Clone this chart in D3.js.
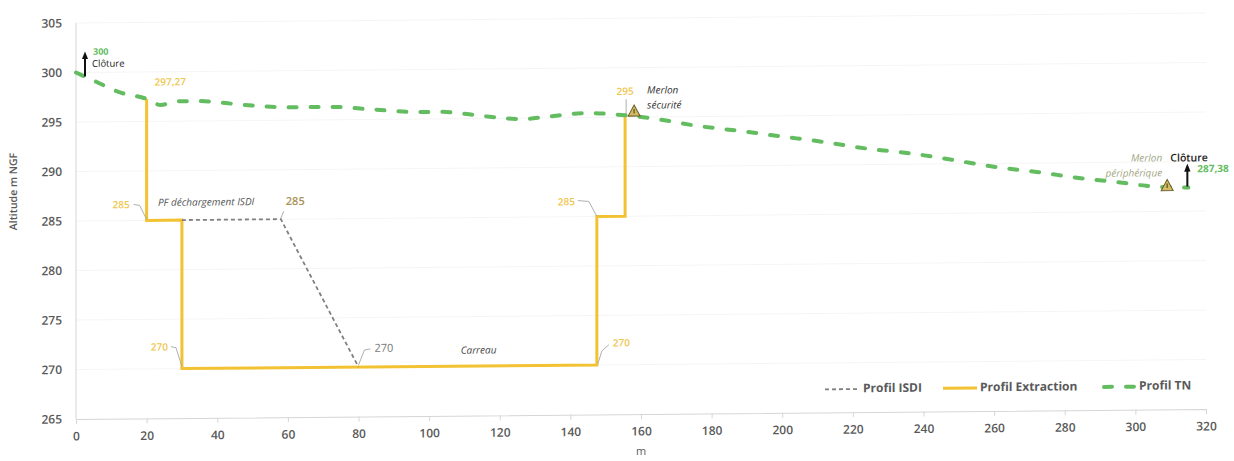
<!DOCTYPE html>
<html><head><meta charset="utf-8">
<script src="https://cdn.jsdelivr.net/npm/d3@7"></script>
<style>body{margin:0;background:#fff} svg{display:block} text{font-family:"Open Sans",sans-serif}</style>
</head><body><svg id="c" width="1234" height="461"></svg>
<script>
// ---- data ----
const xTicks = [0,20,40,60,80,100,120,140,160,180,200,220,240,260,280,300,320];
const yTicks = [265,270,275,280,285,290,295,300,305];
const tnX = [0,6,12,20,24,29,35,47,60,72,84,97,103,115,121,127,133,145,152,164,176,188,200,212,224,236,248,261,272,284,297,303,315];
const tnY = [300,299.0,298.0,297.27,296.65,297.0,297.0,296.6,296.3,296.3,296.0,295.7,295.7,295.25,295.0,294.9,295.1,295.45,295.3,294.8,294.05,293.5,292.9,292.3,291.6,291.1,290.4,289.6,289.1,288.45,287.9,287.6,287.38];
const extX = [20,20,30,30,147.5,147.5,155.5,155.5];
const extY = [297.27,285,285,270,270,285,285,295.1];
const isdiX = [30,58,80];
const isdiY = [285,285,270];
const seriesNames = ["Profil ISDI","Profil Extraction","Profil TN"];
const xTitle = "m", yTitle = "Altitude m NGF";

const W=1234,H=461, k=10/1130;
const svg=d3.select("#c");
svg.append("rect").attr("width",W).attr("height",H).attr("fill","#fff");
const g=svg.append("g").attr("transform",`matrix(1,${-k},0,1,0,${k*76})`);
const x=d3.scaleLinear().domain([0,320]).range([76,1206]);
const y=d3.scaleLinear().domain([265,305]).range([419,23]);

const C={tn:"#63bd60",ext:"#f3c232",isdi:"#808080",lab:"#595959",yl:"#efc64e"};

// gridlines
g.append("g").selectAll("line").data(yTicks.slice(1)).join("line")
 .attr("x1",x(0)).attr("x2",x(320)).attr("y1",d=>y(d)).attr("y2",d=>y(d))
 .attr("stroke","#f5f5f5").attr("stroke-width",1);

// axes
const xa=g.append("g").attr("transform",`translate(0,${y(265)})`)
 .call(d3.axisBottom(x).tickValues(xTicks).tickSize(5).tickPadding(8).tickFormat(d3.format("d")));
const ya=g.append("g").attr("transform",`translate(${x(0)},0)`)
 .call(d3.axisLeft(y).tickValues(yTicks).tickSize(0).tickPadding(14).tickFormat(d3.format("d")));
[xa,ya].forEach(a=>{
 a.selectAll("path").attr("stroke","#d6d6d6");
 a.selectAll("line").attr("stroke","#d6d6d6");
 a.selectAll("text").attr("fill",C.lab).attr("font-size",12).attr("font-weight",600).attr("font-family","'Open Sans',sans-serif");
});
ya.select("path").attr("d",`M0,${y(305)}V${y(265)}`);

// axis titles
g.append("text").attr("x",x(160)).attr("y",460).attr("text-anchor","middle")
 .attr("font-size",11).attr("fill",C.lab).text(xTitle);
g.append("text").attr("transform",`translate(17,${191}) rotate(-90)`).attr("text-anchor","middle")
 .attr("font-size",10.5).attr("font-weight",600).attr("fill",C.lab).text(yTitle);

const line=d3.line().x(d=>x(d[0])).y(d=>y(d[1]));
const tn=tnX.map((v,i)=>[v,tnY[i]]);
const ext=extX.map((v,i)=>[v,extY[i]]);
const isdi=isdiX.map((v,i)=>[v,isdiY[i]]);

g.append("path").attr("d",line(ext)).attr("fill","none").attr("stroke",C.ext).attr("stroke-width",3);
g.append("path").attr("d",line(isdi)).attr("fill","none").attr("stroke",C.isdi).attr("stroke-width",1.8).attr("stroke-dasharray","4,3");
g.append("path").attr("d",d3.line().curve(d3.curveMonotoneX).x(d=>x(d[0])).y(d=>y(d[1]))(tn))
 .attr("fill","none").attr("stroke",C.tn).attr("stroke-width",4).attr("stroke-dasharray","8,14").attr("stroke-linecap","round");

// defs
svg.append("defs").append("marker").attr("id","ah").attr("viewBox","0 0 10 10").attr("refX",5).attr("refY",5)
 .attr("markerWidth",4).attr("markerHeight",4).attr("orient","auto")
 .append("path").attr("d","M0,1L10,5L0,9Z").attr("fill","#111");

function P(pt){return [x(pt[0]),y(pt[1])];}
function txt(pt,dx,dy,s,o){
 const [px,py]=P(pt);
 const t=g.append("text").attr("x",px+dx).attr("y",py+dy).attr("dominant-baseline","middle")
  .attr("font-size",o.size||10).attr("fill",o.fill||C.lab).attr("text-anchor",o.anchor||"start")
  .attr("font-weight",o.weight||400).attr("font-style",o.italic?"italic":"normal").text(s);
 return t;
}
function leader(pt,pts){
 const [px,py]=P(pt);
 g.append("polyline").attr("points",pts.map(p=>[px+p[0],py+p[1]].join(",")).join(" "))
  .attr("fill","none").attr("stroke","#a6a6a6").attr("stroke-width",0.9);
}
function arrow(pt,dx,y1,y2){
 const [px,py]=P(pt);
 g.append("line").attr("x1",px+dx).attr("x2",px+dx).attr("y1",py+y1).attr("y2",py+y2)
  .attr("stroke","#111").attr("stroke-width",2).attr("marker-end","url(#ah)");
}
function tri(pt,dx,dy){
 const [px,py]=P(pt);
 g.append("path").attr("d",`M${px+dx},${py+dy-6}L${px+dx+6},${py+dy+5}L${px+dx-6},${py+dy+5}Z`)
  .attr("fill","#d2bd66").attr("stroke","#6a5c26").attr("stroke-width",1);
 g.append("line").attr("x1",px+dx).attr("x2",px+dx).attr("y1",py+dy-2).attr("y2",py+dy+2.5).attr("stroke","#5a4e1e").attr("stroke-width",1.2);
}

// annotations
txt(tn[0],17,-20,"300",{fill:C.tn,weight:700,size:9});
txt(tn[0],16,-8,"Clôture",{fill:"#222",size:9.5});
arrow(tn[0],9,4,-17);
txt(ext[0],8,-16,"297,27",{fill:C.yl,weight:600});
txt(ext[1],-17,-15,"285",{fill:C.yl,weight:600,anchor:"end"});
leader(ext[1],[[-13,-16],[-7,-15],[0,-1]]);
txt(ext[3],-14,-21,"270",{fill:C.yl,weight:600,anchor:"end"});
leader(ext[3],[[-11,-22],[-6,-21],[0,-2]]);
txt(isdi[0],-24,-17,"PF déchargement ISDI",{fill:"#555",italic:true});
txt(isdi[1],5,-17,"285",{fill:"#a8925a",weight:600,size:11});
leader(isdi[1],[[0,-1],[3,-8]]);
txt(isdi[2],16,-18,"270",{fill:"#777",size:11});
leader(isdi[2],[[0,-2],[6,-17],[12,-18]]);
txt([114,270],0,-15,"Carreau",{fill:"#444",italic:true,anchor:"middle"});
txt(ext[4],16,-21,"270",{fill:C.yl,weight:600});
leader(ext[4],[[1,-1],[5,-14],[12,-20]]);
txt(ext[5],-22,-14,"285",{fill:C.yl,weight:600,anchor:"end"});
leader(ext[5],[[-19,-16],[-8,-15],[0,0]]);
txt(ext[7],0,-24,"295",{fill:C.yl,weight:600,anchor:"middle"});
leader(ext[7],[[1,-17],[1,-2]]);
tri(ext[7],9,-5);
txt(ext[7],22,-25,"Merlon",{fill:"#333",italic:true});
txt(ext[7],22,-10,"sécurité",{fill:"#333",italic:true});
tri([309,287.6],0,0);
txt([309,287.6],-5,-27,"Merlon",{fill:"#a3a785",italic:true,anchor:"end"});
txt([309,287.6],-5,-12,"périphérique",{fill:"#a3a785",italic:true,anchor:"end"});
const last=tn[tn.length-1];
txt(last,-18,-29,"Clôture",{fill:"#222",weight:600,size:10.5});
arrow(last,-1,-1,-20);
txt(last,9,-18,"287,38",{fill:C.tn,weight:700});

// legend
const lg=g.append("g").attr("transform","translate(0,396)");
const items=[
 {x0:825,x1:860,tx:863,stroke:C.isdi,w:1.8,dash:"4,3",cap:"butt"},
 {x0:943,x1:977,tx:980,stroke:C.ext,w:3,dash:null,cap:"butt"},
 {x0:1104,x1:1135,tx:1139,stroke:C.tn,w:4,dash:"8,14",cap:"round"}];
items.forEach((it,i)=>{
 lg.append("line").attr("x1",it.x0).attr("x2",it.x1).attr("y1",0).attr("y2",0)
  .attr("stroke",it.stroke).attr("stroke-width",it.w).attr("stroke-dasharray",it.dash).attr("stroke-linecap",it.cap);
 lg.append("text").attr("x",it.tx).attr("y",0).attr("dominant-baseline","middle").attr("font-size",12)
  .attr("font-weight",700).attr("fill",C.lab).text(seriesNames[i]);
});
</script></body></html>
